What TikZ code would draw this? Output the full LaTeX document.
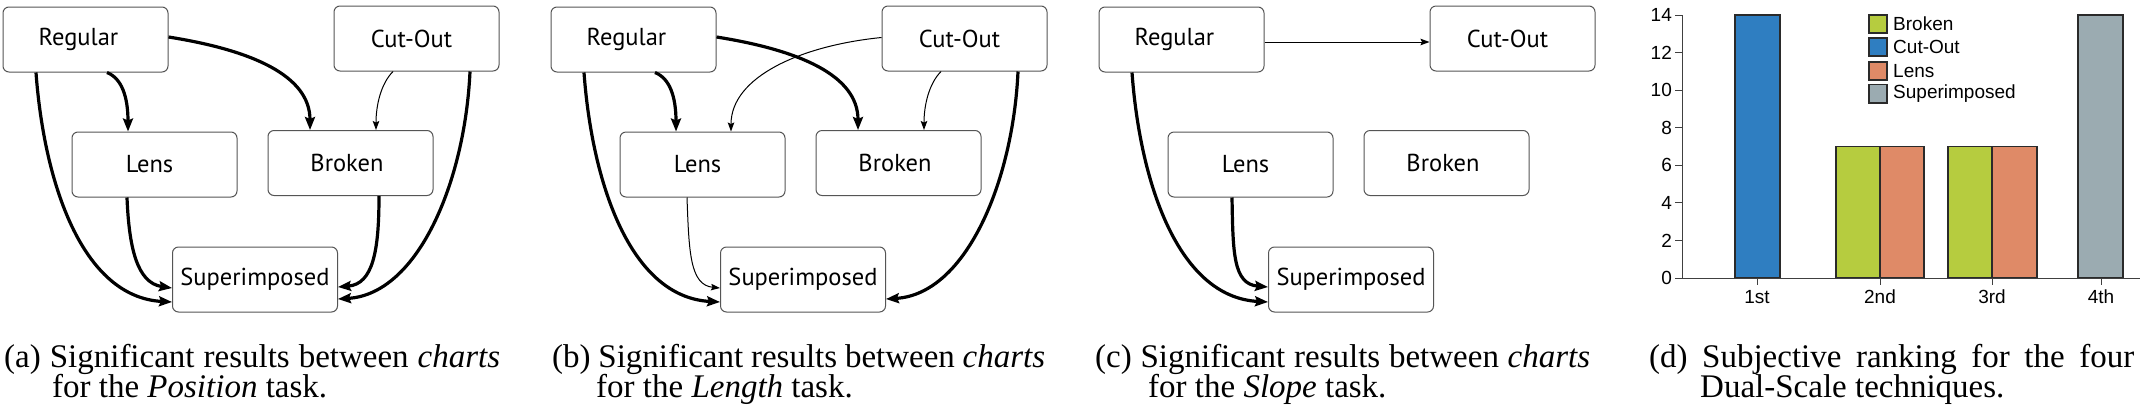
\documentclass[tikz,border=0pt]{standalone}
\usepackage{fontspec}
\setmainfont{Liberation Serif}
\newfontfamily\boxfont{PT Sans}
\newfontfamily\chartfont{Liberation Sans}
\usetikzlibrary{arrows.meta}
\definecolor{boxline}{HTML}{555555}
\definecolor{cbroken}{HTML}{B6CC3F}
\definecolor{ccutout}{HTML}{2F7EC1}
\definecolor{clens}{HTML}{DF8A67}
\definecolor{csuper}{HTML}{9BABB1}
\definecolor{axisgray}{HTML}{404040}
\definecolor{barline}{HTML}{2A2A2A}
\tikzset{
  tech/.style={draw=boxline, line width=1pt, rounded corners=6pt,
    minimum width=165pt, minimum height=65pt, inner sep=0pt,
    font=\boxfont\fontsize{24.5}{26}\selectfont},
  strong/.style={line width=3.2pt, -{Stealth[length=13pt,width=10pt,inset=2pt]}},
  weak/.style={line width=1pt, -{Stealth[length=9pt,width=6.5pt,inset=1.5pt]}},
  captext/.style={anchor=base west, inner sep=0pt, font=\fontsize{33}{30}\selectfont},
  bar/.style={draw=barline, line width=1.2pt},
  axisline/.style={draw=axisgray, line width=1pt},
  ticklab/.style={inner sep=0pt},
}
\newcommand\nudgeleft[1]{\hspace*{-#1}}
\newcommand\techboxes{%
  \node[tech] (Regular) at (85.5,39.5) {\nudgeleft{14pt}Regular};
  \node[tech] (CutOut) at (416.5,38.5) {\nudgeleft{10pt}Cut-Out};
  \node[tech] (Lens) at (154.5,164.5) {\nudgeleft{10pt}Lens};
  \node[tech] (Broken) at (350.5,163) {\nudgeleft{7pt}Broken};
  \node[tech] (Super) at (255,279.5) {Superimposed};
}
\begin{document}
\begin{tikzpicture}[x=1pt,y=-1pt]
\useasboundingbox[fill=white] (0,0) rectangle (2140,416);

% ---------- (a) ----------
\begin{scope}[name prefix=a-]
  \techboxes
  \draw[strong] ([xshift=21.5pt]Regular.south) .. controls +(18,7) and +(0,-27) .. ([xshift=-26.5pt]Lens.north);
  \draw[strong] ([yshift=2.5pt]Regular.east) .. controls +(82,13) and +(0,-55) .. ([xshift=-40.5pt]Broken.north);
  \draw[strong] ([xshift=-49.5pt]Regular.south) .. controls +(8,110) and +(-90,-5) .. ([yshift=-22.5pt]Super.west);
  \draw[strong] ([xshift=-27.5pt]Lens.south) .. controls +(2,50) and +(-35,-5) .. ([yshift=-8.5pt]Super.west);
  \draw[strong] ([xshift=28.5pt]Broken.south) .. controls +(0,55) and +(35,-3) .. ([yshift=-7.5pt]Super.east);
  \draw[strong] ([xshift=53.5pt]CutOut.south) .. controls +(-5,110) and +(80,-5) .. ([yshift=-19.5pt]Super.east);
  \draw[weak] ([xshift=-23.5pt]CutOut.south) .. controls +(-12,12) and +(0,-25) .. ([xshift=25.5pt]Broken.north);
\end{scope}

% ---------- (b) ----------
\begin{scope}[xshift=548pt, name prefix=b-]
  \techboxes
  \draw[strong] ([xshift=21.5pt]Regular.south) .. controls +(18,7) and +(0,-27) .. ([xshift=-26.5pt]Lens.north);
  \draw[strong] ([yshift=2.5pt]Regular.east) .. controls +(82,13) and +(0,-55) .. ([xshift=-40.5pt]Broken.north);
  \draw[strong] ([xshift=-49.5pt]Regular.south) .. controls +(8,110) and +(-90,-5) .. ([yshift=-22.5pt]Super.west);
  \draw[weak] ([xshift=-15.5pt]Lens.south) .. controls +(2,55) and +(-30,-3) .. ([yshift=-8.5pt]Super.west);
  \draw[weak] ([yshift=1pt]CutOut.west) .. controls +(-80,8) and +(0,-55) .. ([xshift=28.5pt]Lens.north);
  \draw[strong] ([xshift=53.5pt]CutOut.south) .. controls +(-5,110) and +(80,-5) .. ([yshift=-19.5pt]Super.east);
  \draw[weak] ([xshift=-23.5pt]CutOut.south) .. controls +(-12,12) and +(0,-25) .. ([xshift=25.5pt]Broken.north);
\end{scope}

% ---------- (c) ----------
\begin{scope}[xshift=1096pt, name prefix=c-]
  \techboxes
  \draw[weak] ([yshift=-2.5pt]Regular.east) -- ([yshift=-3.5pt]CutOut.west);
  \draw[strong] ([xshift=-49.5pt]Regular.south) .. controls +(8,110) and +(-90,-5) .. ([yshift=-22.5pt]Super.west);
  \draw[strong] ([xshift=-18.5pt]Lens.south) .. controls +(1,55) and +(-35,-3) .. ([yshift=-7.5pt]Super.west);
\end{scope}

% ---------- (d) ----------
\begin{scope}[font=\chartfont\fontsize{19}{21}\selectfont]
  \draw[bar, fill=ccutout] (1735,278) rectangle (1780,15);
  \draw[bar, fill=cbroken] (1836,278) rectangle (1880,146.5);
  \draw[bar, fill=clens]   (1880,278) rectangle (1924,146.5);
  \draw[bar, fill=cbroken] (1948,278) rectangle (1992,146.5);
  \draw[bar, fill=clens]   (1992,278) rectangle (2037,146.5);
  \draw[bar, fill=csuper]  (2078,278) rectangle (2123,15);
  \draw[axisline] (1682,15) -- (1682,278) -- (2140,278);
  \foreach \v [count=\i] in {0,2,...,14} {
    \draw[axisline] (1675,{278-\v*18.786}) -- (1682,{278-\v*18.786});
    \node[ticklab, anchor=east] (ytick\i) at (1672,{278-\v*18.786}) {\v};
  }
  \foreach \xx/\lab [count=\i] in {1757/1st,1880/2nd,1992/3rd,2101/4th} {
    \draw[axisline] (\xx,278) -- (\xx,285);
    \node[ticklab] (xtick\i) at (\xx,297) {\lab};
  }
  \draw[bar, fill=cbroken] (1869,15) rectangle (1887,33);
  \draw[bar, fill=ccutout] (1869,38) rectangle (1887,56);
  \draw[bar, fill=clens]   (1869,62) rectangle (1887,80);
  \draw[bar, fill=csuper]  (1869,84.5) rectangle (1887,103);
  \node[ticklab, anchor=west] (legb) at (1893,24) {Broken};
  \node[ticklab, anchor=west] (legc) at (1893,47) {Cut-Out};
  \node[ticklab, anchor=west] (legl) at (1893,71) {Lens};
  \node[ticklab, anchor=west] (legs) at (1893,93.5) {Superimposed};
\end{scope}

% ---------- captions ----------
\node[captext] (capa1) at (4,367) {\makebox[496pt][s]{(a) Significant results between \textit{charts}}};
\node[captext] (capa2) at (52,397) {for the \textit{Position} task.};
\node[captext] (capb1) at (552,367) {\makebox[493pt][s]{(b) Significant results between \textit{charts}}};
\node[captext] (capb2) at (596,397) {for the \textit{Length} task.};
\node[captext] (capc1) at (1095,367) {\makebox[495pt][s]{(c) Significant results between \textit{charts}}};
\node[captext] (capc2) at (1148,397) {for the \textit{Slope} task.};
\node[captext] (capd1) at (1649,367) {\makebox[485pt][s]{(d) Subjective ranking for the four}};
\node[captext] (capd2) at (1700,397) {Dual-Scale techniques.};
\end{tikzpicture}
\end{document}
